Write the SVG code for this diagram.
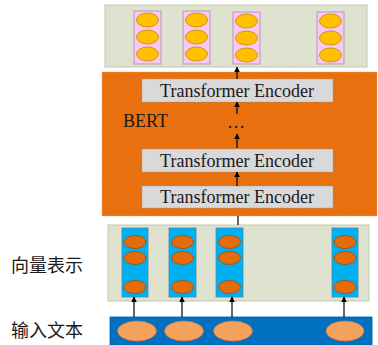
<svg xmlns="http://www.w3.org/2000/svg" width="378" height="345" viewBox="0 0 378 345">
  <defs>
    <style>
      .panel { fill: #dfe2cf; stroke: #c4c7b4; stroke-width: 1; }
      .bert { fill: #e8700f; stroke: #f0a060; stroke-width: 0.6; stroke-dasharray: 2 1; }
      .enc { fill: #d9d9d9; stroke: #9a9a9a; stroke-width: 0.6; stroke-dasharray: 2 1; }
      .enc-text { font-family: "Liberation Serif", "Times New Roman", serif; font-size: 18px; fill: #1a1a1a; text-anchor: middle; }
      .bert-text { font-family: "Liberation Serif", "Times New Roman", serif; font-size: 18px; fill: #1a1a1a; }
      .label { font-family: "Noto Sans CJK SC", "Noto Sans CJK JP", sans-serif; font-size: 18px; fill: #1a1a1a; }
      .pink { fill: #fbc8f6; stroke: #a88aa6; stroke-width: 0.8; }
      .gold { fill: #ffc000; stroke: #c08a00; stroke-width: 0.8; }
      .cyan { fill: #00b0f0; stroke: #4a8ab0; stroke-width: 0.8; }
      .rust { fill: #e46c0a; stroke: #a84a08; stroke-width: 0.8; }
      .input { fill: #0070c0; stroke: #0060a8; stroke-width: 0.8; }
      .sand { fill: #f4a15e; stroke: #d07a30; stroke-width: 0.8; }
      .arrow { stroke: #000; stroke-width: 1.2; fill: none; marker-end: url(#head); }
      .line { stroke: #000; stroke-width: 1.2; fill: none; }
    </style>
    <marker id="head" viewBox="0 0 10 10" refX="9" refY="5" markerWidth="6" markerHeight="6" orient="auto" markerUnits="userSpaceOnUse">
      <path d="M0,0 L10,5 L0,10 z" fill="#000"/>
    </marker>
  </defs>

  <!-- output representations -->
  <g id="output">
    <rect class="panel" x="105" y="5" width="262" height="62"/>
    <rect class="pink" x="134" y="11" width="27" height="53"/>
    <ellipse class="gold" cx="147.5" cy="20" rx="11" ry="7"/>
    <ellipse class="gold" cx="147.5" cy="37" rx="11" ry="7"/>
    <ellipse class="gold" cx="147.5" cy="54" rx="11" ry="7"/>
    <rect class="pink" x="183" y="11" width="27" height="53"/>
    <ellipse class="gold" cx="196.5" cy="20" rx="11" ry="7"/>
    <ellipse class="gold" cx="196.5" cy="37" rx="11" ry="7"/>
    <ellipse class="gold" cx="196.5" cy="54" rx="11" ry="7"/>
    <rect class="pink" x="233" y="12" width="27" height="52"/>
    <ellipse class="gold" cx="246.5" cy="21" rx="11" ry="7"/>
    <ellipse class="gold" cx="246.5" cy="38" rx="11" ry="7"/>
    <ellipse class="gold" cx="246.5" cy="55" rx="11" ry="7"/>
    <rect class="pink" x="317" y="12" width="27" height="52"/>
    <ellipse class="gold" cx="330.5" cy="21" rx="11" ry="7"/>
    <ellipse class="gold" cx="330.5" cy="38" rx="11" ry="7"/>
    <ellipse class="gold" cx="330.5" cy="55" rx="11" ry="7"/>
  </g>

  <!-- BERT block -->
  <g id="bert">
    <rect class="bert" x="102" y="72" width="275" height="144"/>
    <text class="bert-text" x="123" y="127">BERT</text>
    <text class="enc-text" x="236" y="128">…</text>
  </g>
  <g id="encoder-top">
    <rect class="enc" x="142" y="79" width="191" height="23"/>
    <text class="enc-text" x="237" y="97">Transformer Encoder</text>
  </g>
  <g id="encoder-mid">
    <rect class="enc" x="142" y="149" width="191" height="23"/>
    <text class="enc-text" x="237" y="167">Transformer Encoder</text>
  </g>
  <g id="encoder-bottom">
    <rect class="enc" x="142" y="186" width="191" height="22"/>
    <text class="enc-text" x="237" y="203">Transformer Encoder</text>
  </g>

  <!-- vector representations -->
  <g id="vectors">
    <rect class="panel" x="108" y="225" width="261" height="76"/>
    <rect class="cyan" x="122" y="228" width="26" height="69"/>
    <ellipse class="rust" cx="135" cy="242" rx="11" ry="6.5"/>
    <ellipse class="rust" cx="135" cy="258" rx="11" ry="6.5"/>
    <ellipse class="rust" cx="135" cy="287" rx="11" ry="6.5"/>
    <rect class="cyan" x="169" y="228" width="27" height="69"/>
    <ellipse class="rust" cx="182.5" cy="242" rx="11" ry="6.5"/>
    <ellipse class="rust" cx="182.5" cy="258" rx="11" ry="6.5"/>
    <ellipse class="rust" cx="182.5" cy="287" rx="11" ry="6.5"/>
    <rect class="cyan" x="216" y="228" width="27" height="69"/>
    <ellipse class="rust" cx="229.5" cy="242" rx="11" ry="6.5"/>
    <ellipse class="rust" cx="229.5" cy="258" rx="11" ry="6.5"/>
    <ellipse class="rust" cx="229.5" cy="287" rx="11" ry="6.5"/>
    <rect class="cyan" x="332" y="228" width="26" height="69"/>
    <ellipse class="rust" cx="345" cy="242" rx="11" ry="6.5"/>
    <ellipse class="rust" cx="345" cy="258" rx="11" ry="6.5"/>
    <ellipse class="rust" cx="345" cy="287" rx="11" ry="6.5"/>
    <text class="label" x="11" y="272">向量表示</text>
  </g>

  <!-- input text -->
  <g id="input">
    <rect class="input" x="110" y="317" width="262" height="28"/>
    <ellipse class="sand" cx="137" cy="331" rx="19.5" ry="10"/>
    <ellipse class="sand" cx="184" cy="331" rx="19.5" ry="10"/>
    <ellipse class="sand" cx="233" cy="331" rx="19.5" ry="10"/>
    <ellipse class="sand" cx="345" cy="331" rx="19" ry="10"/>
    <text class="label" x="11" y="337">输入文本</text>
  </g>

  <!-- connectors -->
  <g id="connectors">
    <line class="arrow" x1="237" y1="79" x2="237" y2="67"/>
    <line class="arrow" x1="237" y1="114" x2="237" y2="102"/>
    <line class="arrow" x1="237" y1="148" x2="237" y2="134"/>
    <line class="arrow" x1="237" y1="186" x2="237" y2="172"/>
    <line class="line" x1="238" y1="216" x2="238" y2="225"/>
    <line class="arrow" x1="134" y1="317" x2="134" y2="297"/>
    <line class="arrow" x1="182" y1="317" x2="182" y2="297"/>
    <line class="arrow" x1="232" y1="317" x2="232" y2="297"/>
    <line class="arrow" x1="344" y1="317" x2="344" y2="297"/>
  </g>
</svg>
